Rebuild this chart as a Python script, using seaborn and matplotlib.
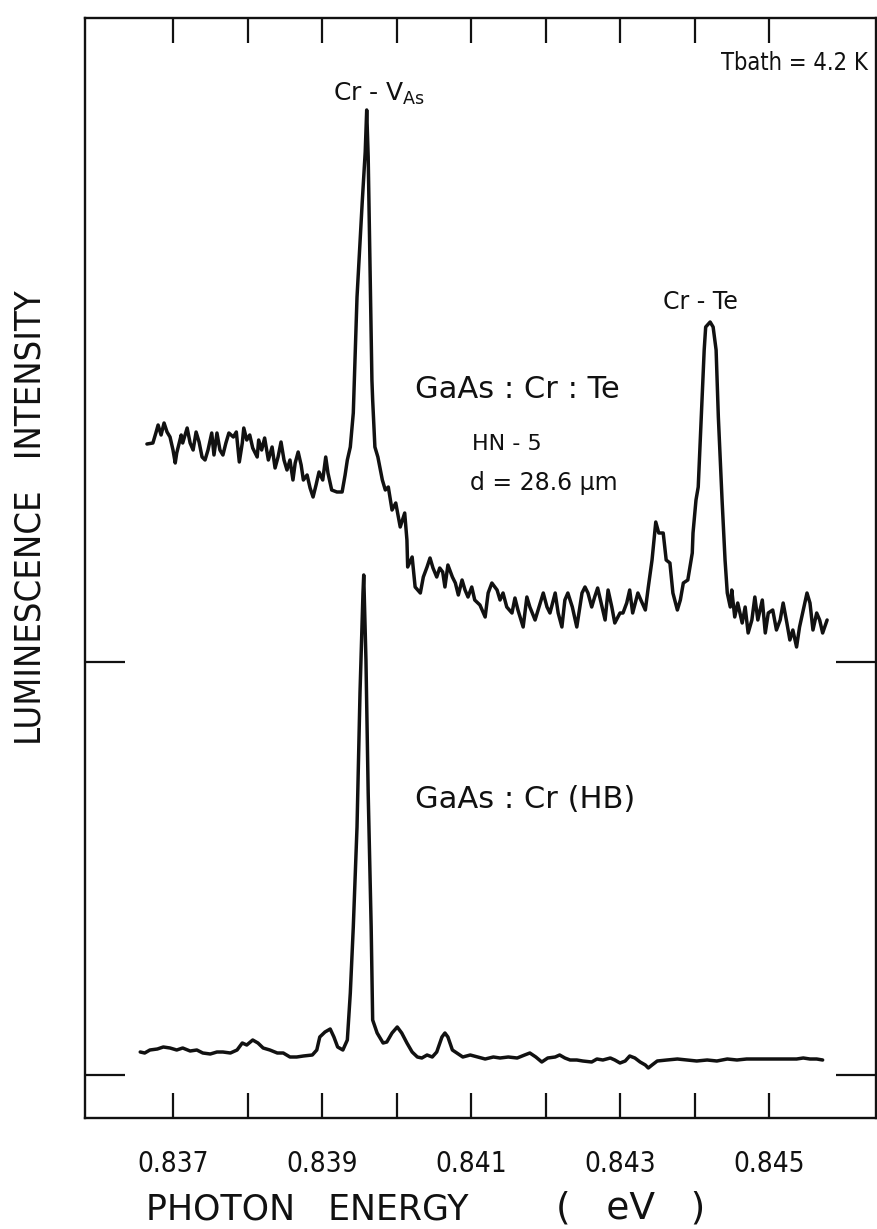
import numpy as np
import pandas as pd
import matplotlib
matplotlib.use("Agg")
import matplotlib.pyplot as plt
import seaborn as sns
from matplotlib.ticker import FixedLocator

# GaAs:Cr:Te (HN-5, d = 28.6 um) photoluminescence spectrum
upper_energy = [
    0.83665, 0.83673, 0.83677, 0.83680, 0.83684, 0.83688, 0.83692, 0.83696, 0.83700, 0.83703,
    0.83705, 0.83711, 0.83713, 0.83719, 0.83723, 0.83727, 0.83731, 0.83735, 0.83739, 0.83743,
    0.83747, 0.83752, 0.83755, 0.83759, 0.83763, 0.83767, 0.83771, 0.83775, 0.83781, 0.83785,
    0.83789, 0.83793, 0.83795, 0.83799, 0.83803, 0.83807, 0.83813, 0.83815, 0.83819, 0.83823,
    0.83828, 0.83833, 0.83837, 0.83841, 0.83845, 0.83849, 0.83853, 0.83857, 0.83861, 0.83864,
    0.83868, 0.83872, 0.83875, 0.83880, 0.83884, 0.83888, 0.83892, 0.83896, 0.83901, 0.83905,
    0.83908, 0.83913, 0.83920, 0.83927, 0.83931, 0.83934, 0.83938, 0.83942, 0.83947, 0.83954,
    0.83958, 0.83960, 0.83962, 0.83964, 0.83967, 0.83968, 0.83971, 0.83975, 0.83981, 0.83985,
    0.83989, 0.83994, 0.83999, 0.84005, 0.84011, 0.84014, 0.84015, 0.84021, 0.84025, 0.84032,
    0.84036, 0.84041, 0.84045, 0.84049, 0.84054, 0.84058, 0.84062, 0.84065, 0.84069, 0.84075,
    0.84079, 0.84083, 0.84088, 0.84092, 0.84096, 0.84101, 0.84105, 0.84112, 0.84119, 0.84123,
    0.84128, 0.84135, 0.84139, 0.84143, 0.84148, 0.84155, 0.84159, 0.84163, 0.84170, 0.84175,
    0.84179, 0.84186, 0.84193, 0.84197, 0.84202, 0.84206, 0.84213, 0.84217, 0.84222, 0.84226,
    0.84230, 0.84236, 0.84242, 0.84249, 0.84253, 0.84257, 0.84262, 0.84266, 0.84270, 0.84276,
    0.84280, 0.84284, 0.84289, 0.84293, 0.84300, 0.84304, 0.84309, 0.84313, 0.84317, 0.84324,
    0.84328, 0.84334, 0.84338, 0.84343, 0.84348, 0.84352, 0.84358, 0.84362, 0.84367, 0.84371,
    0.84377, 0.84381, 0.84385, 0.84391, 0.84397, 0.84398, 0.84402, 0.84405, 0.84410, 0.84413,
    0.84415, 0.84421, 0.84425, 0.84429, 0.84432, 0.84437, 0.84441, 0.84444, 0.84448, 0.84450,
    0.84454, 0.84458, 0.84464, 0.84468, 0.84472, 0.84477, 0.84481, 0.84485, 0.84491, 0.84495,
    0.84499, 0.84505, 0.84510, 0.84515, 0.84519, 0.84524, 0.84528, 0.84532, 0.84537, 0.84541,
    0.84546, 0.84551, 0.84555, 0.84559, 0.84564, 0.84568, 0.84572, 0.84578,
]
upper_intensity = [
    2.18, 2.19, 2.29, 2.37, 2.27, 2.39, 2.30, 2.25, 2.12, 1.99,
    2.09, 2.27, 2.19, 2.34, 2.19, 2.12, 2.30, 2.20, 2.05, 2.02,
    2.12, 2.29, 2.07, 2.29, 2.12, 2.07, 2.19, 2.29, 2.25, 2.30,
    2.00, 2.19, 2.34, 2.22, 2.27, 2.14, 2.05, 2.22, 2.12, 2.24,
    2.02, 2.15, 1.94, 2.05, 2.20, 2.02, 1.92, 2.02, 1.82, 1.99,
    2.10, 1.97, 1.82, 1.87, 1.74, 1.65, 1.77, 1.90, 1.82, 2.05,
    1.89, 1.72, 1.70, 1.70, 1.87, 2.02, 2.15, 2.49, 3.65, 4.60,
    5.10, 5.52, 5.05, 4.15, 2.82, 2.62, 2.15, 2.05, 1.82, 1.72,
    1.75, 1.52, 1.59, 1.35, 1.49, 1.22, 0.95, 1.05, 0.75, 0.69,
    0.85, 0.95, 1.04, 0.94, 0.85, 0.94, 0.90, 0.75, 0.97, 0.85,
    0.79, 0.67, 0.82, 0.72, 0.65, 0.75, 0.62, 0.57, 0.45, 0.69,
    0.79, 0.72, 0.62, 0.69, 0.55, 0.49, 0.64, 0.52, 0.35, 0.65,
    0.55, 0.42, 0.59, 0.69, 0.55, 0.49, 0.69, 0.49, 0.35, 0.62,
    0.69, 0.55, 0.35, 0.69, 0.75, 0.69, 0.55, 0.65, 0.74, 0.55,
    0.42, 0.72, 0.55, 0.39, 0.49, 0.49, 0.59, 0.72, 0.49, 0.69,
    0.62, 0.52, 0.75, 1.02, 1.40, 1.29, 1.29, 1.02, 0.99, 0.69,
    0.52, 0.62, 0.79, 0.82, 1.09, 1.29, 1.62, 1.75, 2.62, 3.12,
    3.35, 3.40, 3.35, 3.12, 2.45, 1.62, 1.02, 0.69, 0.55, 0.72,
    0.45, 0.59, 0.39, 0.55, 0.29, 0.42, 0.65, 0.42, 0.62, 0.29,
    0.49, 0.52, 0.32, 0.42, 0.59, 0.39, 0.22, 0.32, 0.15, 0.35,
    0.52, 0.69, 0.59, 0.32, 0.49, 0.42, 0.29, 0.42,
]

# GaAs:Cr (HB) photoluminescence spectrum
lower_energy = [
    0.83656, 0.83662, 0.83669, 0.83679, 0.83687, 0.83696, 0.83705, 0.83713, 0.83723, 0.83732,
    0.83740, 0.83750, 0.83759, 0.83767, 0.83777, 0.83786, 0.83793, 0.83799, 0.83807, 0.83814,
    0.83821, 0.83830, 0.83840, 0.83848, 0.83857, 0.83866, 0.83875, 0.83887, 0.83893, 0.83897,
    0.83904, 0.83911, 0.83916, 0.83921, 0.83928, 0.83934, 0.83938, 0.83942, 0.83947, 0.83951,
    0.83955, 0.83956, 0.83959, 0.83962, 0.83966, 0.83968, 0.83974, 0.83982, 0.83987, 0.83994,
    0.84001, 0.84007, 0.84014, 0.84021, 0.84028, 0.84034, 0.84041, 0.84048, 0.84054, 0.84061,
    0.84065, 0.84069, 0.84075, 0.84081, 0.84089, 0.84099, 0.84109, 0.84119, 0.84130, 0.84139,
    0.84150, 0.84162, 0.84172, 0.84179, 0.84187, 0.84195, 0.84203, 0.84213, 0.84219, 0.84226,
    0.84233, 0.84242, 0.84250, 0.84262, 0.84269, 0.84277, 0.84287, 0.84293, 0.84300, 0.84307,
    0.84313, 0.84320, 0.84327, 0.84334, 0.84338, 0.84343, 0.84350, 0.84363, 0.84377, 0.84390,
    0.84403, 0.84417, 0.84430, 0.84444, 0.84457, 0.84470, 0.84484, 0.84497, 0.84511, 0.84524,
    0.84537, 0.84546, 0.84555, 0.84564, 0.84572,
]
lower_intensity = [
    0.23, 0.22, 0.25, 0.26, 0.28, 0.27, 0.25, 0.27, 0.24, 0.25,
    0.22, 0.21, 0.23, 0.23, 0.22, 0.25, 0.32, 0.30, 0.35, 0.32,
    0.27, 0.25, 0.22, 0.22, 0.18, 0.18, 0.19, 0.20, 0.25, 0.38,
    0.43, 0.46, 0.38, 0.28, 0.25, 0.35, 0.82, 1.48, 2.48, 3.82,
    4.82, 5.00, 4.15, 2.82, 1.48, 0.55, 0.42, 0.32, 0.33, 0.42,
    0.48, 0.42, 0.32, 0.23, 0.18, 0.17, 0.20, 0.18, 0.23, 0.38,
    0.42, 0.38, 0.25, 0.22, 0.18, 0.20, 0.18, 0.16, 0.18, 0.17,
    0.18, 0.17, 0.20, 0.22, 0.18, 0.13, 0.17, 0.18, 0.20, 0.17,
    0.15, 0.15, 0.14, 0.13, 0.16, 0.15, 0.17, 0.15, 0.12, 0.14,
    0.19, 0.17, 0.13, 0.10, 0.07, 0.10, 0.14, 0.15, 0.16, 0.15,
    0.14, 0.15, 0.14, 0.16, 0.15, 0.16, 0.16, 0.16, 0.16, 0.16,
    0.16, 0.17, 0.16, 0.16, 0.15,
]

# vertical shift of the upper spectrum (zero levels marked on both sides)
upper_offset = 4.13
zero_levels = [0.0, upper_offset]

tick_energies = [0.837, 0.838, 0.839, 0.840, 0.841, 0.842, 0.843, 0.844, 0.845]
tick_labels = ["0.837", "", "0.839", "", "0.841", "", "0.843", "", "0.845"]

sns.set_theme(style="ticks")
plt.rcParams["font.family"] = ["DejaVu Sans"]
INK = "#111111"

W, H = 877, 1229
fig = plt.figure(figsize=(W / 100, H / 100), dpi=100)
fig.patch.set_facecolor("white")
left, right, top, bottom = 85, 876, 18, 1118
ax = fig.add_axes([left / W, 1 - bottom / H, (right - left) / W, (bottom - top) / H])
ax.set_facecolor("white")

upper = pd.DataFrame({"energy": upper_energy,
                      "intensity": np.asarray(upper_intensity) + upper_offset})
lower = pd.DataFrame({"energy": lower_energy, "intensity": lower_intensity})

for df in (upper, lower):
    sns.lineplot(data=df, x="energy", y="intensity", ax=ax, sort=False,
                 estimator=None, color=INK, linewidth=2.5)

ax.set_xlim(0.8358188, 0.8464362)
ax.set_ylim(-0.43, 10.57)

for s in ax.spines.values():
    s.set_visible(True)
    s.set_linewidth(1.7)
    s.set_color(INK)

ax.xaxis.set_major_locator(FixedLocator(tick_energies))
ax.set_xticklabels(tick_labels)
ax.tick_params(axis="x", which="major", direction="in", top=True, bottom=True,
               length=18, width=1.6, color=INK, labelcolor=INK, pad=23, labelsize=20)
for lab in ax.get_xticklabels():
    lab.set_fontstretch("condensed")

ax.set_yticks(zero_levels)
ax.set_yticklabels([])
ax.tick_params(axis="y", direction="in", left=True, right=True,
               length=29, width=1.6, color=INK)

ax.set_xlabel("")
ax.set_ylabel("")

def axfrac(px, py):
    return (px - left) / (right - left), (bottom - py) / (bottom - top)

txt = dict(color=INK, transform=ax.transAxes)
ax.text(*axfrac(868, 70), "Tbath = 4.2 K", ha="right", va="baseline",
        fontsize=17, fontstretch="condensed", **txt)
ax.text(*axfrac(333, 101), r"Cr - V$_{\mathregular{As}}$", ha="left", va="baseline",
        fontsize=18, **txt)
ax.text(*axfrac(663, 309), "Cr - Te", ha="left", va="baseline", fontsize=17, **txt)
ax.text(*axfrac(415, 398), "GaAs : Cr : Te", ha="left", va="baseline", fontsize=22, **txt)
ax.text(*axfrac(472, 450), "HN - 5", ha="left", va="baseline", fontsize=16, **txt)
ax.text(*axfrac(470, 490), "d = 28.6 µm", ha="left", va="baseline", fontsize=17, **txt)
ax.text(*axfrac(415, 808), "GaAs : Cr (HB)", ha="left", va="baseline", fontsize=22, **txt)

fig.text(31 / W, 1 - 518 / H, "LUMINESCENCE   INTENSITY", rotation=90,
         ha="center", va="center", fontsize=26, fontstretch="condensed", color=INK)
fig.text(146 / W, 1 - 1219 / H, "PHOTON   ENERGY", ha="left", va="baseline",
         fontsize=25, color=INK)
fig.text(556 / W, 1 - 1219 / H, "(   eV   )", ha="left", va="baseline",
         fontsize=27, color=INK)

fig.savefig("out.png", dpi=100, facecolor="white")
